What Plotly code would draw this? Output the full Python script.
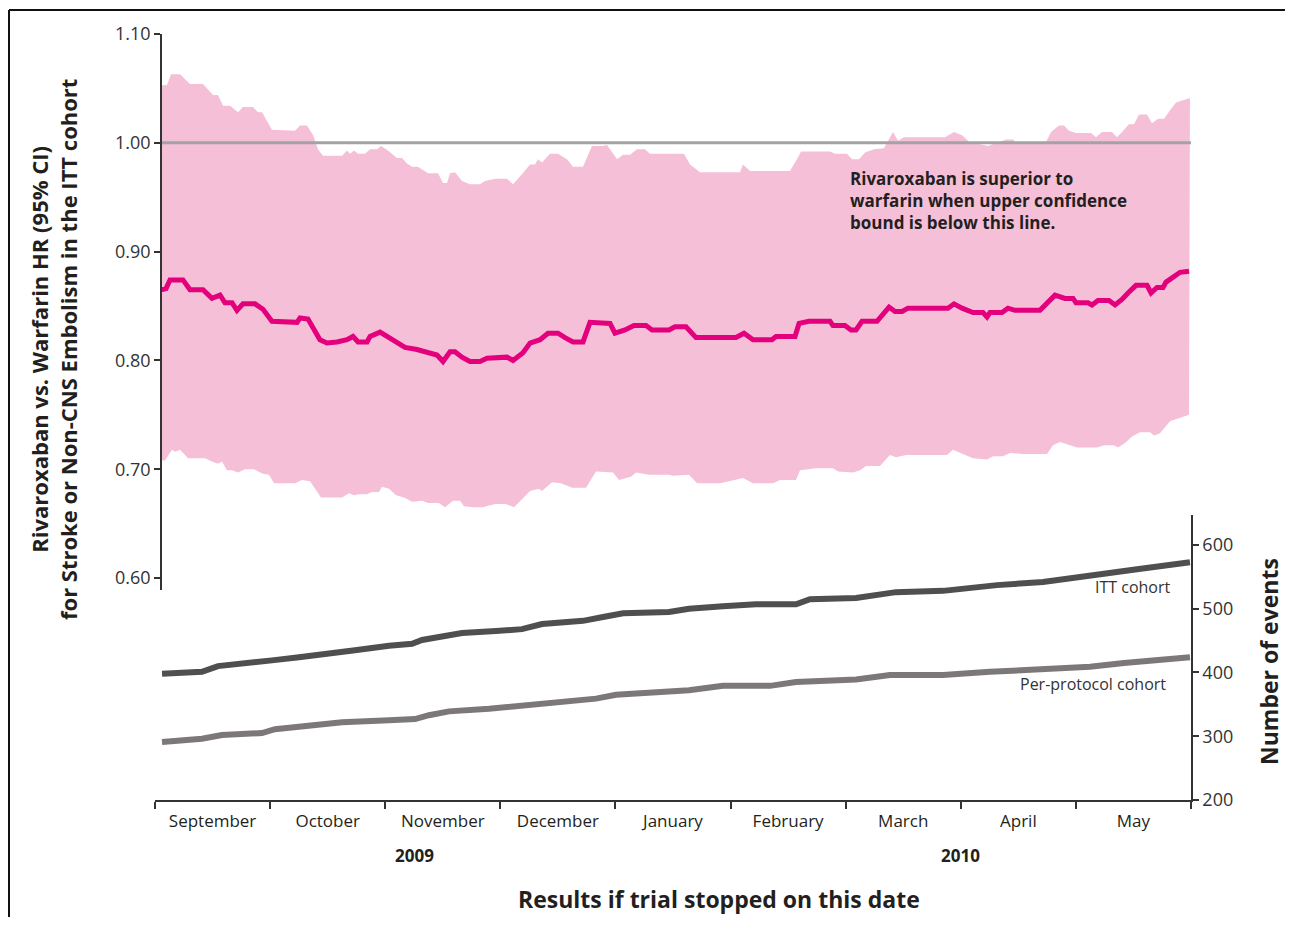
import plotly.graph_objects as go

# ---------------- data (x = months since 1 Sep 2009) ----------------
months = ["September", "October", "November", "December", "January",
          "February", "March", "April", "May"]
month_centers = [0.5, 1.5, 2.5, 3.5, 4.5, 5.5, 6.5, 7.5, 8.5]
month_edges = [0, 1, 2, 3, 4, 5, 6, 7, 8, 9]
years = ["2009", "2010"]
year_pos = [2.25, 7.0]

hr_x = [0.052, 0.096, 0.130, 0.243, 0.304, 0.417, 0.495, 0.565, 0.608, 0.669, 0.712, 0.764,
        0.869, 0.938, 1.016, 1.234, 1.260, 1.329, 1.433, 1.494, 1.581, 1.668, 1.720, 1.764,
        1.842, 1.868, 1.955, 2.015, 2.102, 2.172, 2.276, 2.363, 2.450, 2.502, 2.563, 2.606,
        2.667, 2.736, 2.823, 2.884, 3.058, 3.110, 3.197, 3.258, 3.345, 3.414, 3.501, 3.562,
        3.631, 3.718, 3.779, 3.953, 3.996, 4.083, 4.161, 4.266, 4.318, 4.465, 4.517, 4.613,
        4.700, 5.047, 5.117, 5.195, 5.360, 5.395, 5.560, 5.595, 5.682, 5.864, 5.890, 5.994,
        6.046, 6.090, 6.142, 6.272, 6.377, 6.429, 6.490, 6.541, 6.889, 6.941, 7.011, 7.106,
        7.193, 7.228, 7.254, 7.358, 7.410, 7.471, 7.688, 7.818, 7.905, 7.975, 8.001, 8.105,
        8.140, 8.192, 8.288, 8.340, 8.400, 8.453, 8.522, 8.618, 8.653, 8.705, 8.757, 8.783,
        8.853, 8.905, 8.983]
hr = [0.865, 0.866, 0.874, 0.874, 0.865, 0.865, 0.857, 0.860, 0.853, 0.853, 0.846, 0.852,
      0.852, 0.847, 0.836, 0.835, 0.839, 0.838, 0.819, 0.816, 0.817, 0.819, 0.822, 0.817,
      0.817, 0.822, 0.826, 0.822, 0.817, 0.812, 0.810, 0.807, 0.805, 0.799, 0.808, 0.808,
      0.803, 0.799, 0.799, 0.802, 0.803, 0.800, 0.807, 0.816, 0.819, 0.825, 0.825, 0.821,
      0.817, 0.817, 0.835, 0.834, 0.825, 0.828, 0.832, 0.832, 0.828, 0.828, 0.831, 0.831,
      0.821, 0.821, 0.825, 0.819, 0.819, 0.822, 0.822, 0.834, 0.836, 0.836, 0.832, 0.832,
      0.828, 0.828, 0.836, 0.836, 0.849, 0.845, 0.845, 0.848, 0.848, 0.852, 0.848, 0.844,
      0.844, 0.840, 0.844, 0.844, 0.848, 0.846, 0.846, 0.860, 0.857, 0.857, 0.853, 0.853,
      0.851, 0.855, 0.855, 0.851, 0.856, 0.862, 0.869, 0.869, 0.862, 0.867, 0.867, 0.872,
      0.877, 0.881, 0.882]

upper_x = [0.052, 0.104, 0.139, 0.217, 0.304, 0.417, 0.504, 0.547, 0.591, 0.652, 0.721, 0.764,
           0.851, 0.895, 0.930, 1.016, 1.216, 1.260, 1.320, 1.373, 1.416, 1.459, 1.625, 1.668,
           1.694, 1.729, 1.764, 1.824, 1.868, 1.929, 1.963, 2.024, 2.102, 2.146, 2.189, 2.233,
           2.285, 2.372, 2.459, 2.502, 2.537, 2.563, 2.606, 2.667, 2.736, 2.823, 2.867, 2.954,
           3.058, 3.110, 3.188, 3.258, 3.301, 3.327, 3.362, 3.431, 3.501, 3.579, 3.631, 3.718,
           3.796, 3.848, 3.891, 3.927, 4.014, 4.066, 4.127, 4.187, 4.257, 4.300, 4.474, 4.596,
           4.648, 4.735, 5.082, 5.108, 5.169, 5.516, 5.577, 5.612, 5.864, 5.908, 6.011, 6.055,
           6.116, 6.168, 6.246, 6.333, 6.411, 6.455, 6.507, 6.863, 6.941, 7.011, 7.072, 7.236,
           7.393, 7.454, 7.488, 7.732, 7.784, 7.853, 7.897, 7.940, 8.001, 8.131, 8.175, 8.227,
           8.314, 8.357, 8.401, 8.461, 8.505, 8.548, 8.618, 8.661, 8.714, 8.766, 8.818, 8.870,
           8.957, 8.991]
upper = [1.053, 1.053, 1.063, 1.063, 1.054, 1.054, 1.044, 1.044, 1.034, 1.034, 1.028, 1.033,
         1.033, 1.028, 1.028, 1.012, 1.011, 1.016, 1.016, 1.007, 0.994, 0.988, 0.988, 0.993,
         0.990, 0.993, 0.990, 0.990, 0.994, 0.994, 0.997, 0.993, 0.986, 0.986, 0.981, 0.978,
         0.978, 0.972, 0.972, 0.963, 0.963, 0.972, 0.973, 0.965, 0.962, 0.962, 0.965, 0.967,
         0.967, 0.962, 0.971, 0.980, 0.980, 0.985, 0.982, 0.990, 0.990, 0.985, 0.978, 0.978,
         0.997, 0.997, 0.997, 0.998, 0.985, 0.989, 0.989, 0.994, 0.994, 0.990, 0.990, 0.990,
         0.980, 0.973, 0.973, 0.980, 0.974, 0.974, 0.985, 0.992, 0.992, 0.990, 0.990, 0.985,
         0.985, 0.991, 0.994, 0.995, 1.010, 1.002, 1.005, 1.005, 1.010, 1.007, 1.001, 0.997,
         1.003, 1.003, 0.999, 0.999, 1.010, 1.016, 1.016, 1.011, 1.009, 1.009, 1.005, 1.010,
         1.010, 1.005, 1.010, 1.017, 1.017, 1.026, 1.026, 1.018, 1.022, 1.022, 1.030, 1.037,
         1.040, 1.041]

lower_x = [0.052, 0.087, 0.148, 0.174, 0.217, 0.287, 0.434, 0.495, 0.547, 0.582, 0.625, 0.669,
           0.721, 0.782, 0.860, 0.930, 0.990, 1.034, 1.216, 1.277, 1.347, 1.442, 1.625, 1.685,
           1.729, 1.772, 1.842, 1.885, 1.946, 1.972, 2.033, 2.094, 2.163, 2.233, 2.320, 2.372,
           2.467, 2.519, 2.589, 2.650, 2.684, 2.763, 2.849, 2.910, 2.962, 3.049, 3.119, 3.188,
           3.258, 3.336, 3.362, 3.449, 3.527, 3.623, 3.744, 3.831, 3.979, 4.031, 4.092, 4.135,
           4.179, 4.292, 4.465, 4.500, 4.639, 4.709, 4.908, 4.987, 5.108, 5.195, 5.369, 5.430,
           5.569, 5.603, 5.742, 5.890, 5.934, 6.064, 6.125, 6.177, 6.298, 6.333, 6.385, 6.437,
           6.524, 6.880, 6.932, 7.019, 7.106, 7.228, 7.280, 7.367, 7.428, 7.541, 7.749, 7.801,
           7.862, 7.949, 8.010, 8.184, 8.245, 8.331, 8.366, 8.427, 8.488, 8.557, 8.644, 8.679,
           8.731, 8.818, 8.905, 8.983]
lower = [0.708, 0.708, 0.718, 0.716, 0.718, 0.710, 0.710, 0.707, 0.705, 0.707, 0.699, 0.699,
         0.697, 0.700, 0.700, 0.696, 0.695, 0.687, 0.687, 0.690, 0.689, 0.674, 0.674, 0.678,
         0.676, 0.677, 0.677, 0.679, 0.679, 0.684, 0.682, 0.676, 0.674, 0.670, 0.671, 0.669,
         0.669, 0.665, 0.671, 0.671, 0.666, 0.665, 0.665, 0.667, 0.668, 0.668, 0.665, 0.672,
         0.680, 0.682, 0.680, 0.688, 0.687, 0.683, 0.683, 0.698, 0.697, 0.690, 0.692, 0.693,
         0.697, 0.695, 0.695, 0.694, 0.695, 0.687, 0.687, 0.689, 0.692, 0.687, 0.687, 0.690,
         0.690, 0.699, 0.701, 0.701, 0.698, 0.697, 0.699, 0.703, 0.703, 0.707, 0.713, 0.711,
         0.713, 0.713, 0.718, 0.714, 0.710, 0.709, 0.712, 0.712, 0.715, 0.714, 0.714, 0.722,
         0.725, 0.722, 0.720, 0.720, 0.722, 0.722, 0.720, 0.724, 0.730, 0.734, 0.734, 0.731,
         0.733, 0.744, 0.747, 0.750]

itt_x = [0.061, 0.408, 0.547, 0.756, 1.016, 1.251, 1.451, 1.737, 2.033, 2.233, 2.320, 2.493,
         2.667, 2.962, 3.188, 3.362, 3.718, 3.892, 4.066, 4.465, 4.639, 4.934, 5.221, 5.569,
         5.690, 6.090, 6.264, 6.437, 6.846, 7.054, 7.315, 7.714, 7.888, 8.244, 8.531, 8.818,
         8.991]
itt = [398, 401, 410, 413, 419, 424, 428, 435, 442, 445, 451, 456, 462, 465, 468, 476, 481,
       487, 493, 495, 500, 504, 507, 507, 515, 517, 521, 526, 528, 533, 537, 542, 547, 555,
       562, 569, 573]

pp_x = [0.061, 0.408, 0.582, 0.930, 1.042, 1.338, 1.625, 2.033, 2.259, 2.380, 2.554, 2.902,
        3.249, 3.657, 3.831, 4.005, 4.352, 4.639, 4.934, 5.343, 5.569, 6.090, 6.385, 6.846,
        7.254, 7.601, 8.123, 8.418, 8.705, 8.991]
pp = [291, 296, 302, 305, 311, 317, 322, 325, 327, 333, 339, 343, 349, 355, 359, 365, 368,
      372, 379, 379, 385, 389, 396, 396, 401, 405, 409, 415, 419, 424]

ref_hr = 1.0
ref_x = [0.052, 9.0]

hr_ticks = [0.60, 0.70, 0.80, 0.90, 1.00, 1.10]
event_ticks = [200, 300, 400, 500, 600]

FONT = "Open Sans"
TXT = "#231f20"

fig = go.Figure()

# CI band as a closed polygon
fig.add_trace(go.Scatter(
    x=upper_x + lower_x[::-1], y=upper + lower[::-1],
    mode="lines", fill="toself", fillcolor="#f5bfd7",
    line=dict(width=0), hoverinfo="skip", showlegend=False,
    xaxis="x", yaxis="y"))

fig.add_trace(go.Scatter(
    x=ref_x, y=[ref_hr, ref_hr], mode="lines",
    line=dict(color="#a3a3a3", width=3), showlegend=False,
    xaxis="x", yaxis="y"))

fig.add_trace(go.Scatter(
    x=hr_x, y=hr, mode="lines",
    line=dict(color="#e4007d", width=5), showlegend=False,
    xaxis="x", yaxis="y"))

fig.add_trace(go.Scatter(
    x=itt_x, y=itt, mode="lines",
    line=dict(color="#4f4f4f", width=6), showlegend=False,
    xaxis="x", yaxis="y2"))

fig.add_trace(go.Scatter(
    x=pp_x, y=pp, mode="lines",
    line=dict(color="#7c7878", width=6), showlegend=False,
    xaxis="x", yaxis="y2"))

# page geometry (the page body has an 8 px margin)
OFF = 8
PW, PH = 1293, 925
W, H = PW - 2 * OFF, PH - 2 * OFF
L, R, T, B = 155, 1191, 34, 800          # plot area in page pixels
pw, ph = R - L, B - T


def px(xp):
    return (xp - L) / pw


def py(yp):
    return (B - yp) / ph


fig.update_layout(
    width=W, height=H,
    margin=dict(l=L - OFF, r=W - (R - OFF), t=T - OFF, b=H - (B - OFF), pad=0),
    paper_bgcolor="white", plot_bgcolor="rgba(0,0,0,0)",
    font=dict(family=FONT, color=TXT),
    showlegend=False,
    xaxis=dict(
        range=[0, 9], anchor="y2", showgrid=False, zeroline=False,
        showline=True, linecolor="#333333", linewidth=1.5,
        tickmode="array", tickvals=month_centers, ticktext=months,
        ticks="", ticklabelstandoff=5,
        tickfont=dict(size=17, color=TXT, family=FONT),
        minor=dict(tickmode="array", tickvals=month_edges, ticks="outside",
                   ticklen=7, tickwidth=1.5, tickcolor="#333333", showgrid=False),
    ),
    yaxis=dict(
        domain=[py(590), 1.0], range=[0.589, 1.10],
        anchor="free", position=px(161), side="left",
        showgrid=False, zeroline=False,
        showline=True, linecolor="#333333", linewidth=1.5,
        tickmode="array", tickvals=hr_ticks, tickformat=".2f",
        ticks="outside", ticklen=6, tickwidth=1.5, tickcolor="#333333",
        tickfont=dict(size=18, color="#333333", family=FONT),
    ),
    yaxis2=dict(
        domain=[0, py(515)], range=[200, 647],
        anchor="x", side="right",
        showgrid=False, zeroline=False,
        showline=True, linecolor="#333333", linewidth=1.5,
        tickmode="array", tickvals=event_ticks,
        ticks="outside", ticklen=6, tickwidth=1.5, tickcolor="#333333",
        tickfont=dict(size=18, color="#333333", family=FONT),
    ),
)

ann = []
for yr, pos in zip(years, year_pos):
    ann.append(dict(x=pos, y=py(856), xref="x", yref="paper", text=f"<b>{yr}</b>",
                    showarrow=False, font=dict(size=17, color=TXT),
                    xanchor="center", yanchor="middle"))
ann.append(dict(x=px(719), y=py(899), xref="paper", yref="paper",
                text="<b>Results if trial stopped on this date</b>",
                showarrow=False, font=dict(size=23, color=TXT),
                xanchor="center", yanchor="middle"))
ann.append(dict(x=px(54), y=py(350), xref="paper", yref="paper",
                text="<b>Rivaroxaban vs. Warfarin HR (95% CI)<br>for Stroke or Non-CNS Embolism in the ITT cohort</b>",
                showarrow=False, textangle=-90, font=dict(size=22, color=TXT),
                xanchor="center", yanchor="middle"))
ann.append(dict(x=px(1269), y=py(662), xref="paper", yref="paper",
                text="<b>Number of events</b>",
                showarrow=False, textangle=-90, font=dict(size=23, color=TXT),
                xanchor="center", yanchor="middle"))
ann.append(dict(x=6.02, y=0.980, xref="x", yref="y",
                text="<b>Rivaroxaban is superior to<br>warfarin when upper confidence<br>bound is below this line.</b>",
                showarrow=False, align="left", font=dict(size=17, color=TXT),
                xanchor="left", yanchor="top"))
ann.append(dict(x=8.844, y=534, xref="x", yref="y2", text="ITT cohort",
                showarrow=False, font=dict(size=16, color="#333333"),
                xanchor="right", yanchor="middle"))
ann.append(dict(x=8.80, y=382, xref="x", yref="y2", text="Per-protocol cohort",
                showarrow=False, font=dict(size=16, color="#333333"),
                xanchor="right", yanchor="middle"))
fig.update_layout(annotations=ann)

# outer frame (top and left edges)
fig.add_shape(type="line", xref="paper", yref="paper",
              x0=px(9), x1=px(PW), y0=py(10), y1=py(10),
              line=dict(color="#111111", width=2))
fig.add_shape(type="line", xref="paper", yref="paper",
              x0=px(9), x1=px(9), y0=py(10), y1=py(PH),
              line=dict(color="#111111", width=2))

fig.write_html("out.html")
